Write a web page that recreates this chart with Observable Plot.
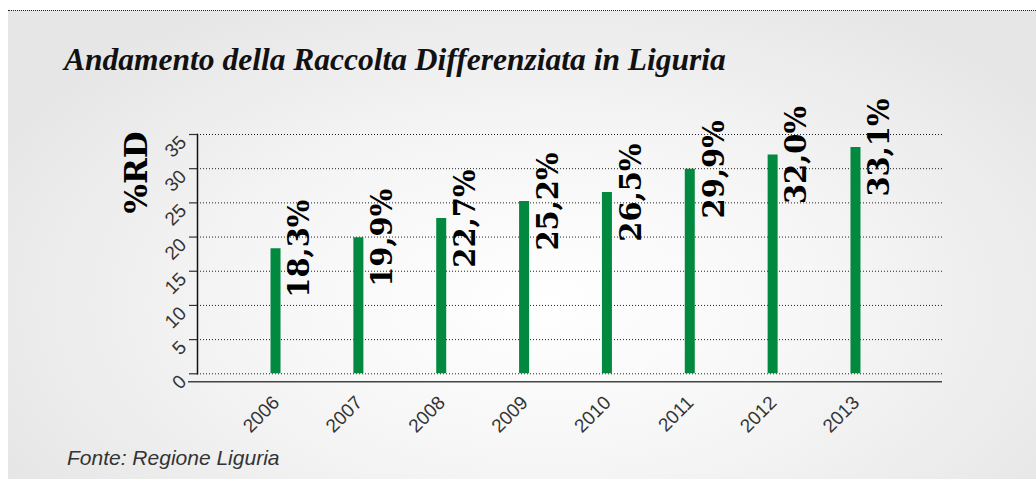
<!DOCTYPE html>
<html>
<head>
<meta charset="utf-8">
<script src="https://cdn.jsdelivr.net/npm/d3@7"></script>
<script src="https://cdn.jsdelivr.net/npm/@observablehq/plot@0.6"></script>
<style>
  html, body { margin: 0; padding: 0; background: #ffffff; }
  #wrap { position: relative; width: 1036px; height: 479px; overflow: hidden; }
  #bg { position: absolute; left: 8px; top: 10px; right: 0; bottom: 0;
        border-top: 1px dotted #222;
        background: radial-gradient(ellipse 60% 75% at 52% 62%, #ffffff 0%, #f6f6f6 45%, #e6e6e6 100%); }
  #title { position: absolute; left: 64px; top: 42px; font-family: "Liberation Serif", serif;
           font-style: italic; font-weight: bold; font-size: 31.5px; line-height: 36px; color: #111; white-space: nowrap; }
  #chart { position: absolute; left: 0; top: 90px; }
  #caption { position: absolute; left: 67px; top: 446px; font-family: "Liberation Sans", Arial, sans-serif;
             font-style: italic; font-size: 21px; line-height: 24px; color: #333; white-space: nowrap; }
</style>
</head>
<body>
<div id="wrap">
  <div id="bg"></div>
  <div id="title">Andamento della Raccolta Differenziata in Liguria</div>
  <div id="chart"></div>
  <div id="caption">Fonte: Regione Liguria</div>
</div>
<script>
const years = ["2006", "2007", "2008", "2009", "2010", "2011", "2012", "2013"];
const values = [18.3, 19.9, 22.7, 25.2, 26.5, 29.9, 32.0, 33.1];
const valueLabels = ["18,3%", "19,9%", "22,7%", "25,2%", "26,5%", "29,9%", "32,0%", "33,1%"];
const yTicks = [0, 5, 10, 15, 20, 25, 30, 35];
const yLabel = "%RD";

const data = years.map((y, i) => ({year: y, value: values[i], label: valueLabels[i]}));

const W = 1036, H = 345;
const plot = Plot.plot({
  width: W,
  height: H,
  marginLeft: 197,
  marginRight: 93,
  marginTop: 44,
  marginBottom: 61.7,
  style: {background: "transparent", overflow: "visible"},
  x: {type: "band", domain: years, range: [233.6, 896.4], padding: 0, round: false, axis: null},
  y: {domain: [0, 35], axis: null},
  marks: [
    Plot.ruleY(yTicks, {stroke: "#222", strokeWidth: 1, strokeDasharray: "1,2"}),
    Plot.axisY({ticks: yTicks, tickSize: 8, tickFormat: () => "", label: null, stroke: "#333", strokeWidth: 1.2}),
    Plot.frame({anchor: "left", stroke: "#111", strokeWidth: 1.5}),
    Plot.ruleY([0], {dy: 8, insetLeft: -9, insetRight: 1, stroke: "#444", strokeWidth: 1.6}),
    Plot.ruleX(data, {x: "year", y1: 0, y2: "value", stroke: "#00893f", strokeWidth: 10}),
    Plot.text(data, {x: "year", y: "value", text: "label", rotate: -90, textAnchor: "middle", lineAnchor: "middle",
      dx: 24.5, fontFamily: "DejaVu Serif", fontWeight: "bold", fontSize: 29, fill: "#000"}),
    Plot.text(yTicks, {y: d => d, text: d => String(d), frameAnchor: "left", textAnchor: "end", lineAnchor: "bottom",
      rotate: -45, dx: -10, dy: 9, fontFamily: "Liberation Sans", fontSize: 19, fill: "#333"}),
    Plot.text(years, {x: d => d, text: d => d, frameAnchor: "bottom", textAnchor: "end", lineAnchor: "bottom",
      rotate: -45, dx: 5, dy: 30, fontFamily: "Liberation Sans", fontSize: 19, fill: "#333"}),
    Plot.text([yLabel], {text: d => d, frameAnchor: "top-left", textAnchor: "middle", lineAnchor: "middle",
      rotate: -90, dx: -60, dy: 38, fontFamily: "DejaVu Serif", fontWeight: "bold", fontSize: 31, fill: "#000"})
  ]
});
document.getElementById("chart").appendChild(plot);
</script>
</body>
</html>
